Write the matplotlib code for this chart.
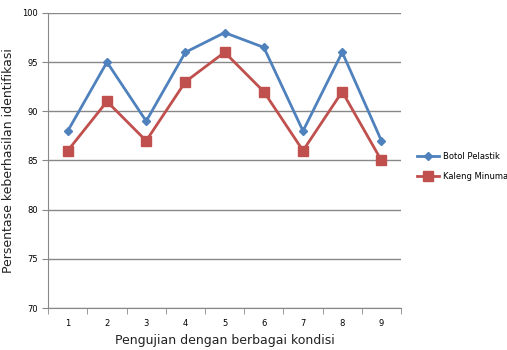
import matplotlib.pyplot as plt
import numpy as np

tests = [1, 2, 3, 4, 5, 6, 7, 8, 9]
botol = [88, 95, 89, 96, 98, 96.5, 88, 96, 87]
kaleng = [86, 91, 87, 93, 96, 92, 86, 92, 85]

fig = plt.figure(figsize=(5.07, 3.5), dpi=100)
ax = fig.add_axes([0.095, 0.12, 0.696, 0.843])

ax.plot(tests, botol, color="#4F81BD", marker="D", markersize=4, lw=2,
        label="Botol Pelastik")
ax.plot(tests, kaleng, color="#C0504D", marker="s", markersize=7, lw=2,
        label="Kaleng Minuman")

ax.set_xlim(0.5, 9.5)
ax.set_ylim(70, 100)
ax.set_yticks(np.arange(70, 101, 5))
ax.set_xticks(tests)
ax.set_xticks(np.arange(0.5, 9.6, 1), minor=True)
ax.tick_params(axis="x", which="major", length=0, labelsize=6, pad=8)
ax.tick_params(axis="x", which="minor", length=4, color="#888888", direction="out")
ax.tick_params(axis="y", length=4, color="#888888", labelsize=6)
ax.grid(axis="y", color="#888888", lw=1)
ax.set_axisbelow(True)

for s in ["top", "right"]:
    ax.spines[s].set_visible(False)
for s in ["left", "bottom"]:
    ax.spines[s].set_color("#888888")

ax.set_xlabel("Pengujian dengan berbagai kondisi", fontsize=9, color="#222222")
ax.set_ylabel("Persentase keberhasilan identifikasi", fontsize=9, color="#222222")
ax.yaxis.set_label_coords(-0.095, 0.5)

ax.legend(loc="center left", bbox_to_anchor=(1.025, 0.48), frameon=False,
          fontsize=6, handlelength=2.6, handletextpad=0.5, labelspacing=1.4)

fig.savefig("out.png")
